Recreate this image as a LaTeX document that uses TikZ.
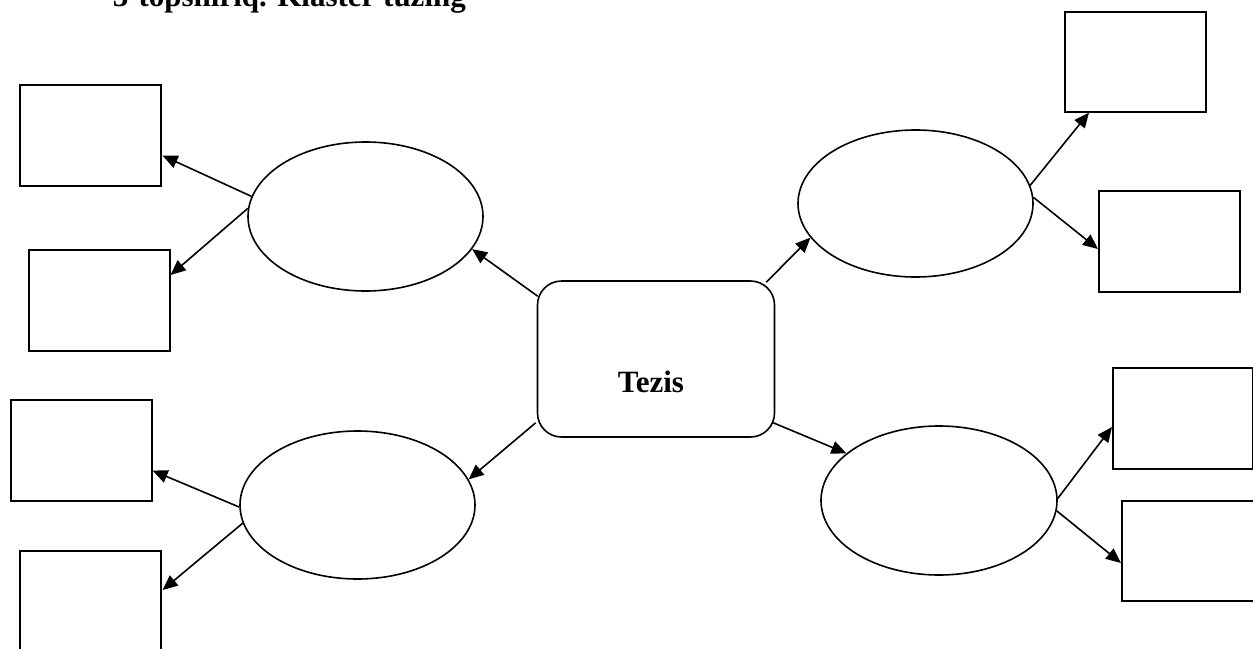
\documentclass[tikz,border=0pt]{standalone}
\usepackage{fontspec}
\setmainfont{Liberation Serif}
\usetikzlibrary{shapes.geometric,arrows.meta,calc}
\begin{document}
\begin{tikzpicture}[x=1pt,y=-1pt,
  every path/.style={line width=1.6pt},
  sbox/.style={draw,line width=1.6pt,rectangle,minimum width=141pt,minimum height=101pt,inner sep=0pt,anchor=north west},
  oval/.style={draw,line width=1.6pt,ellipse,minimum width=235pt,minimum height=148pt,inner sep=0pt},
  arr/.style={-{Triangle[length=15pt,width=13pt]},line width=1.6pt},
  big/.style={font=\fontsize{31}{36}\selectfont\bfseries}]
\useasboundingbox (0,0) rectangle (1253,648);
% title (cut by the top edge, as in the reference)
\node[big,anchor=base west,inner sep=0pt] (title) at (112,6) {3-topshiriq. Klaster tuzing};
% centre
\node[draw,line width=1.6pt,rounded corners=24pt,minimum width=237pt,minimum height=156pt,inner sep=0pt,big] (c) at (656,359) {};
\node[big,inner sep=0pt] (tz) at (651,382) {Tezis};
% ellipses
\node[oval,minimum height=149pt] (e1) at (365.5,216.5) {};
\node[oval] (e2) at (357.5,505) {};
\node[oval,minimum height=147pt] (e3) at (915.5,203.5) {};
\node[oval,minimum width=236pt,minimum height=149pt] (e4) at (939,500.5) {};
% boxes
\node[sbox] (A) at (19,84) {};
\node[sbox] (B) at (28,249) {};
\node[sbox] (C) at (10,399) {};
\node[sbox,minimum height=120pt] (D) at (19,550) {};
\node[sbox,minimum height=100pt] (E) at (1064,11) {};
\node[sbox] (F) at (1098,190) {};
\node[sbox,minimum width=140pt] (G) at (1112,367) {};
\node[sbox,minimum width=150pt,minimum height=100pt] (H) at (1121,500) {};
% centre to ellipses
\draw[arr] ($(c.north west)+(1,16)$) -- (e1.-17);
\draw[arr] ($(c.south west)+(-1,-15)$) -- (e2.13);
\draw[arr] ($(c.north east)+(-9,2)$) -- (e3.198);
\draw[arr] ($(c.south east)+(-2,-15)$) -- (e4.153);
% ellipses to boxes
\draw[arr] (e1.170) -- ($(A.south east)+(1,-31)$);
\draw[arr] (e1.176) -- ($(B.north east)+(0,26)$);
\draw[arr] (e2.181) -- ($(C.south east)+(0,-31)$);
\draw[arr] (e2.189) -- ($(D.north east)+(1,40)$);
\draw[arr] (e3.9) -- ($(E.south west)+(25,0)$);
\draw[arr] (e3.3) -- ($(F.north west)+(0,59)$);
\draw[arr] (e4.1) -- ($(G.north west)+(0,60)$);
\draw[arr] (e4.-5) -- ($(H.north west)+(0,63)$);
\end{tikzpicture}
\end{document}
